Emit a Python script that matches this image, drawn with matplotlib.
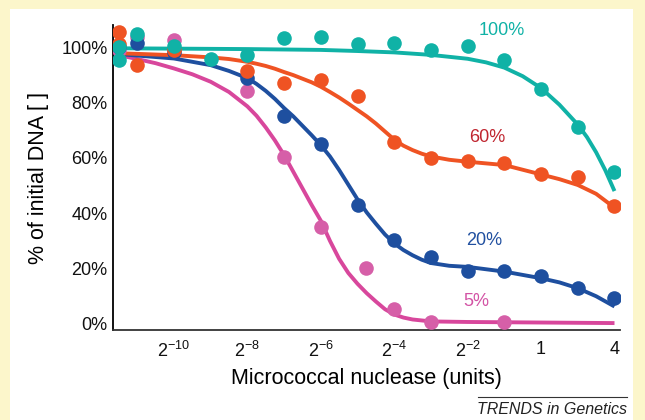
import numpy as np
import matplotlib
matplotlib.use("Agg")
import matplotlib.pyplot as plt
from matplotlib.patches import Rectangle

plt.rcParams['font.family'] = ['Liberation Sans', 'DejaVu Sans']
plt.rcParams['mathtext.fontset'] = 'custom'
plt.rcParams['mathtext.rm'] = 'Liberation Sans'
plt.rcParams['mathtext.it'] = 'Liberation Sans:italic'

# x values are log2(units)
# measured points
teal_x = [-11.5, -11.5, -11, -10, -9, -8, -7, -6, -5, -4, -3, -2, -1, 0, 1, 2]
teal_y = [100, 95.5, 104.7, 100.4, 95.7, 97, 103.4, 103.7, 101, 101.6, 98.9, 100.5, 95.3, 84.7, 71.2, 54.8]
orange_x = [-11.5, -11.5, -11, -10, -8, -7, -6, -5, -4, -3, -2, -1, 0, 1, 2]
orange_y = [105.5, 101, 93.5, 99, 91.4, 87.1, 88.1, 82.4, 65.8, 59.8, 58.8, 58.2, 54.2, 53.2, 42.6]
blue_x = [-11.5, -11, -10, -8, -7, -6, -5, -4, -3, -2, -1, 0, 1, 2]
blue_y = [100, 101.6, 98.3, 88.7, 75.2, 64.9, 43.0, 30.3, 24.1, 19.2, 19.2, 17.4, 12.9, 9.5]
pink_x = [-11.5, -11, -10, -8, -7, -6, -4.77, -4, -3, -1]
pink_y = [99, 103.5, 102.5, 84.2, 60.2, 34.9, 20.1, 5.3, 0.8, 0.8]

# fitted curves
teal_fx = [-11.66, -8, -6, -5, -4, -3, -2, -1.5, -1, -0.5, 0, 0.5, 1, 1.25, 1.5, 1.75, 2.0]
teal_fy = [99.6, 99.3, 99.0, 98.6, 98.1, 97.2, 95.8, 94.5, 92.6, 89.5, 85.2, 79.2, 72.0, 67.5, 62.0, 55.5, 48.0]
orange_fx = [-11.5, -10, -9, -8.5, -8, -7.75, -7.5, -7.25, -7, -6.75, -6.5, -6.25, -6, -5.75,
             -5.5, -5.25, -5, -4.75, -4.5, -4.25, -4, -3.75, -3.5, -3.25, -3, -2.5, -2, -1,
             0, 0.5, 1, 1.5, 2.0]
orange_fy = [97.8, 97.1, 96.3, 95.7, 94.7, 94.0, 93.2, 92.2, 91.0, 89.9, 88.6, 87.3, 85.7, 83.8,
             81.8, 79.6, 77.3, 75.0, 72.4, 69.5, 66.6, 64.4, 62.8, 61.5, 60.5, 59.3, 58.6, 57.4,
             54.0, 52.3, 50.2, 47.0, 42.0]
blue_fx = [-11.5, -10, -9, -8.5, -8, -7.75, -7.5, -7.25, -7, -6.75, -6.5, -6.25, -6, -5.75,
           -5.5, -5.25, -5, -4.75, -4.5, -4.25, -4, -3.75, -3.5, -3.25, -3, -2.5, -2, -1,
           0, 0.5, 1, 1.5, 2.0]
blue_fy = [97.5, 95.9, 93.5, 91.4, 88.8, 86.7, 84.2, 81.3, 78.0, 75.0, 71.6, 68.2, 64.6, 60.5,
           55.6, 50.3, 45.0, 40.3, 36.2, 32.3, 29.1, 26.7, 24.8, 23.2, 22.0, 21.0, 20.6, 18.9,
           16.5, 15.0, 12.9, 10.0, 6.3]
pink_fx = [-11.5, -11, -10.5, -10, -9.5, -9, -8.5, -8, -7.75, -7.5, -7.25, -7, -6.75, -6.5,
           -6.25, -6, -5.75, -5.5, -5.25, -5, -4.75, -4.5, -4.25, -4, -3.75, -3.5, -3, -2,
           0, 2.0]
pink_fy = [97.1, 95.7, 94.2, 92.3, 90.2, 87.5, 83.8, 78.6, 75.2, 71.0, 66.3, 61.0, 55.0, 49.0,
           43.0, 37.3, 30.0, 23.5, 18.4, 14.5, 11.1, 8.1, 5.3, 3.4, 2.3, 1.6, 0.9, 0.7,
           0.5, 0.3]

tick_pos = [-10, -8, -6, -4, -2, 0, 2]
tick_lab = ['$2^{-10}$', '$2^{-8}$', '$2^{-6}$', '$2^{-4}$', '$2^{-2}$', '1', '4']

fig = plt.figure(figsize=(6.45, 4.2), dpi=100)
fig.patch.set_facecolor('#fcf6cb')
fig.patches.append(Rectangle((10/645, 0), 623/645, 411/420, transform=fig.transFigure,
                             facecolor='white', edgecolor='none', zorder=-5))

ax = fig.add_axes([113/645, 90/420, 507/645, 305/420])
ax.set_facecolor('none')

series = [
    (pink_x, pink_y, pink_fx, pink_fy, '#d65fa8', '#d8479c'),
    (blue_x, blue_y, blue_fx, blue_fy, '#1e4f9f', '#1e4f9f'),
    (orange_x, orange_y, orange_fx, orange_fy, '#ef5323', '#ef5323'),
    (teal_x, teal_y, teal_fx, teal_fy, '#10b2a6', '#10b2a6'),
]
for px, py, fx, fy, dc, lc in series:
    ax.plot(fx, fy, color=lc, lw=2.8, solid_capstyle='butt', solid_joinstyle='round', zorder=2)
    ax.plot(px, py, 'o', color=dc, ms=10.5, mec='none', zorder=3)

ax.text(-1.06, 106, '100%', color='#10b2a6', fontsize=13, ha='center', va='center')
ax.text(-1.47, 67.5, '60%', color='#c0252f', fontsize=13, ha='center', va='center')
ax.text(-1.55, 30, '20%', color='#2150a0', fontsize=13, ha='center', va='center')
ax.text(-1.77, 8, '5%', color='#d353a5', fontsize=13, ha='center', va='center')

ax.set_xlim(-11.66, 2.15)
ax.set_ylim(-2.2, 108)
ax.set_xticks(tick_pos)
ax.set_xticklabels(tick_lab)
ax.set_yticks([0, 20, 40, 60, 80, 100])
ax.set_yticklabels(['0%', '20%', '40%', '60%', '80%', '100%'])
ax.tick_params(length=0, labelsize=13, colors='#111111')
ax.tick_params(axis='x', pad=8)
ax.tick_params(axis='y', pad=4)
for s in ['top', 'right']:
    ax.spines[s].set_visible(False)
ax.spines['left'].set_linewidth(1.3)
ax.spines['bottom'].set_linewidth(1.3)
ax.spines['bottom'].set_color('#333333')

ax.set_xlabel('Micrococcal nuclease (units)', fontsize=15.5, labelpad=5)
ax.set_ylabel('% of initial DNA [ ]', fontsize=15.5, labelpad=9)

fig.text(627/645, 1 - 409/420, 'TRENDS in Genetics', fontsize=11.5, style='italic',
         ha='right', va='center', color='#222222')
fig.add_artist(plt.Line2D([478/645, 627/645], [1 - 397/420, 1 - 397/420],
                          color='#333333', lw=0.8, transform=fig.transFigure))

fig.savefig('out.png', dpi=100)
